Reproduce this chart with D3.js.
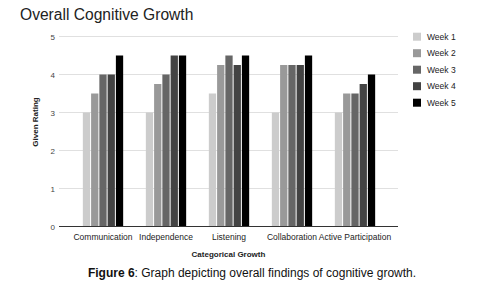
<html><head>
<script src="https://d3js.org/d3.v7.min.js"></script>
<style>
  body { margin: 0; background: #fff; }
  text { font-family: "Liberation Sans", Arial, sans-serif; }
</style>
</head>
<body>
<svg id="chart" width="482" height="295"></svg>
<script>
// Data
const categories = ["Communication", "Independence", "Listening", "Collaboration", "Active Participation"];
const weeks = ["Week 1", "Week 2", "Week 3", "Week 4", "Week 5"];
const week1 = [3, 3, 3.5, 3, 3];
const week2 = [3.5, 3.75, 4.25, 4.25, 3.5];
const week3 = [4, 4, 4.5, 4.25, 3.5];
const week4 = [4, 4.5, 4.25, 4.25, 3.75];
const week5 = [4.5, 4.5, 4.5, 4.5, 4];
const yTicks = [0, 1, 2, 3, 4, 5];
const colors = ["#cccccc", "#999999", "#666666", "#434343", "#000000"];

const series = [week1, week2, week3, week4, week5];
const svg = d3.select("#chart");

// scales
const x0 = d3.scaleBand().domain(categories).range([71.5, 386.5]).paddingInner(0.36).paddingOuter(0.18);
const x1 = d3.scaleBand().domain(weeks).range([0, x0.bandwidth()]).paddingInner(0.12);
const y = d3.scaleLinear().domain([0, 5]).range([226.5, 36.5]);
const color = d3.scaleOrdinal().domain(weeks).range(colors);

// gridlines
svg.append("g").selectAll("line").data(yTicks).join("line")
  .attr("x1", 59).attr("x2", 398)
  .attr("y1", d => y(d)).attr("y2", d => y(d))
  .attr("stroke", d => d === 0 ? "#333" : "#e0e0e0")
  .attr("stroke-width", 1);

// y tick labels
svg.append("g").selectAll("text").data(yTicks).join("text")
  .attr("x", 55).attr("y", d => y(d) + 3)
  .attr("text-anchor", "end")
  .attr("font-size", 8).attr("fill", "#444")
  .text(d => d);

// bars
const groups = svg.append("g").selectAll("g").data(categories).join("g")
  .attr("transform", c => `translate(${x0(c)},0)`);
groups.selectAll("rect")
  .data((c, i) => weeks.map((w, j) => ({ week: w, value: series[j][i] })))
  .join("rect")
  .attr("x", d => x1(d.week))
  .attr("width", x1.bandwidth())
  .attr("y", d => y(d.value))
  .attr("height", d => y(0) - y(d.value))
  .attr("fill", d => color(d.week));

// redraw baseline on top
svg.append("line").attr("x1", 59).attr("x2", 398)
  .attr("y1", y(0)).attr("y2", y(0)).attr("stroke", "#333");

// x labels
svg.append("g").selectAll("text").data(categories).join("text")
  .attr("x", c => x0(c) + x0.bandwidth() / 2).attr("y", 240)
  .attr("text-anchor", "middle")
  .attr("font-size", 8.5).attr("fill", "#222")
  .text(c => c);

// title
svg.append("text").attr("x", 20).attr("y", 19.5)
  .attr("font-family", "Open Sans").attr("font-size", 15.6).attr("fill", "#222")
  .text("Overall Cognitive Growth");

// axis titles
svg.append("text").attr("x", 228.5).attr("y", 257)
  .attr("text-anchor", "middle")
  .attr("font-family", "DejaVu Sans").attr("font-weight", "bold")
  .attr("font-size", 8).attr("fill", "#222")
  .text("Categorical Growth");

svg.append("text").attr("transform", "translate(38,122) rotate(-90)")
  .attr("text-anchor", "middle")
  .attr("font-family", "DejaVu Sans").attr("font-weight", "bold")
  .attr("font-size", 8).attr("fill", "#222")
  .text("Given Rating");

// legend
const legend = svg.append("g").selectAll("g").data(weeks).join("g")
  .attr("transform", (w, i) => `translate(413,${36.7 + i * 16.5})`);
legend.append("rect").attr("x", 0).attr("y", -4).attr("width", 8).attr("height", 8)
  .attr("fill", w => color(w));
legend.append("text").attr("x", 14).attr("y", 3)
  .attr("font-size", 8.5).attr("fill", "#222")
  .text(w => w);

// caption
const cap = svg.append("text").attr("x", 252).attr("y", 277)
  .attr("text-anchor", "middle")
  .attr("font-size", 12).attr("fill", "#111");
cap.append("tspan").attr("font-weight", "bold").text("Figure 6");
cap.append("tspan").text(": Graph depicting overall findings of cognitive growth.");
</script>
</body>
</html>
